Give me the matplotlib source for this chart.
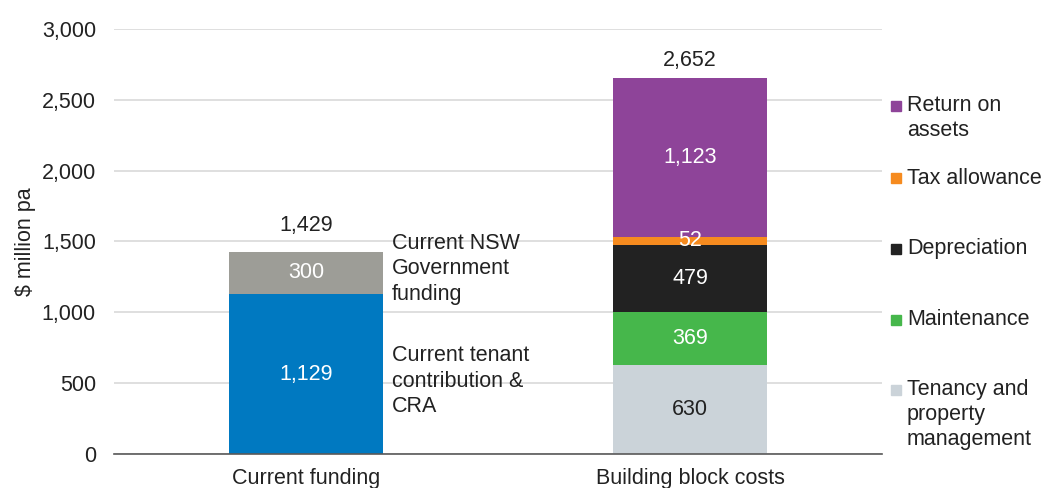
import matplotlib.pyplot as plt
from matplotlib.patches import Rectangle

plt.rcParams['font.family'] = ['Liberation Sans', 'DejaVu Sans']

categories = ['Current funding', 'Building block costs']
totals = [1429, 2652]

# current funding stack (bottom to top)
funding_labels = ['Current tenant\ncontribution &\nCRA', 'Current NSW\nGovernment\nfunding']
funding_values = [1129, 300]
funding_colors = ['#0079c1', '#9d9d97']

# building block stack (bottom to top)
block_labels = ['Tenancy and\nproperty\nmanagement', 'Maintenance', 'Depreciation',
                'Tax allowance', 'Return on\nassets']
block_values = [630, 369, 479, 52, 1123]
block_colors = ['#cbd3d9', '#46b74b', '#222222', '#f68b1f', '#8e4499']
block_text = ['#222222', 'white', 'white', 'white', 'white']

fig = plt.figure(figsize=(10.43, 4.88), dpi=100)
ax = fig.add_axes([0.1093, 0.0697, 0.7363, 0.8709])

W = 0.4
FS = 15.5
TXT = '#222222'
LS = 1.26
LINE_H = 173  # one text line in data units

def stack(x, values, colors, text_colors):
    bottom = 0
    for v, c, tc in zip(values, colors, text_colors):
        ax.bar(x, v, W, bottom=bottom, color=c, zorder=3)
        ax.text(x, bottom + v / 2, f'{v:,}', ha='center', va='center', color=tc,
                fontsize=FS, zorder=4)
        bottom += v
    return bottom

top0 = stack(0, funding_values, funding_colors, ['white', 'white'])
top1 = stack(1, block_values, block_colors, block_text)
ax.annotate(f'{totals[0]:,}', (0, top0), xytext=(0, 11), textcoords='offset points',
            ha='center', va='bottom', fontsize=FS, color=TXT)
ax.annotate(f'{totals[1]:,}', (1, top1), xytext=(0, 5), textcoords='offset points',
            ha='center', va='bottom', fontsize=FS, color=TXT)

# side annotations for current funding
ax.text(0.224, 1306, funding_labels[1], ha='left', va='center', fontsize=FS, color=TXT,
        linespacing=LS)
ax.text(0.224, 515, funding_labels[0], ha='left', va='center', fontsize=FS, color=TXT,
        linespacing=LS)

ax.set_xlim(-0.5, 1.5)
ax.set_ylim(0, 3000)
ax.set_yticks(range(0, 3001, 500))
ax.set_yticklabels([f'{t:,}' for t in range(0, 3001, 500)])
ax.set_xticks([0, 1])
ax.set_xticklabels(categories)
ax.tick_params(length=0, labelsize=FS, colors=TXT)
ax.tick_params(axis='y', pad=13)
ax.tick_params(axis='x', pad=10)
ax.set_ylabel('$ million pa', fontsize=FS, color=TXT, labelpad=4)
ax.grid(axis='y', color='#d9d9d9', linewidth=1.2, zorder=0)
for s in ['left', 'right', 'top']:
    ax.spines[s].set_visible(False)
ax.spines['bottom'].set_color('#595959')
ax.spines['bottom'].set_linewidth(1.2)
ax.spines['bottom'].set_zorder(5)

# manual legend on the right, top to bottom
leg_y = [2456, 1948, 1447, 946, 452]
for y, i in zip(leg_y, [4, 3, 2, 1, 0]):
    ax.add_patch(Rectangle((1.523, y - 36), 0.026, 72, color=block_colors[i], clip_on=False))
    n = block_labels[i].count('\n')
    ax.text(1.565, y - n * LINE_H / 2, block_labels[i], ha='left', va='center', fontsize=FS,
            color=TXT, linespacing=LS, clip_on=False)

fig.savefig('out.png', dpi=100)
